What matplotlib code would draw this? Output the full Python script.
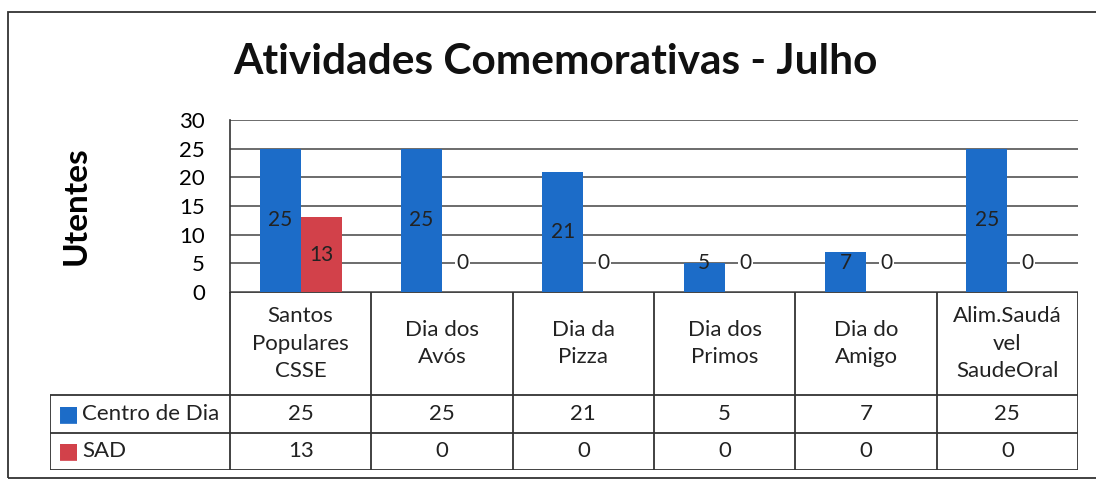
import matplotlib
matplotlib.use("Agg")
import matplotlib.pyplot as plt
import numpy as np
from matplotlib.patches import Rectangle

# data
categories = ["Santos\nPopulares\nCSSE", "Dia dos\nAvós", "Dia da\nPizza",
              "Dia dos\nPrimos", "Dia do\nAmigo", "Alim.Saudá\nvel\nSaudeOral"]
series_names = ["Centro de Dia", "SAD"]
centro_dia = [25, 25, 21, 5, 7, 25]
sad = [13, 0, 0, 0, 0, 0]
yticks = [0, 5, 10, 15, 20, 25, 30]

blue = "#1c6cc8"
red = "#d2414a"
edge = "#333333"
txt = "#222222"

plt.rcParams['font.family'] = ['Lato', 'DejaVu Sans']

W, H = 1096, 482
fig = plt.figure(figsize=(W / 100, H / 100), dpi=100)

def fx(px):
    return px / W

def fy(py):
    return 1 - py / H

# plot area in pixel coords of the reference
left, right, top, bottom = 230, 1078, 120, 292
ax = fig.add_axes([fx(left), fy(bottom), fx(right - left), fy(top) - fy(bottom)])

n = len(categories)
x = np.arange(n)
bw = 0.29
b1 = ax.bar(x + 0.355, centro_dia, bw, color=blue, zorder=3)
b2 = ax.bar(x + 0.645, sad, bw, color=red, zorder=3)

# data labels (roughly centred, nudged up for small bars like excel does)
for bars, vals in ((b1, centro_dia), (b2, sad)):
    for r, v in zip(bars, vals):
        ypos = max(v / 2, 5)
        kw = {}
        if v == 0:
            kw = dict(bbox=dict(facecolor="white", edgecolor="none", pad=1))
        ax.text(r.get_x() + r.get_width() / 2, ypos, str(v), ha="center", va="center",
                fontsize=15, color=txt, zorder=4, **kw)

ax.set_xlim(0, n)
ax.set_ylim(0, 30)
ax.set_yticks(yticks)
ax.set_yticklabels([str(t) for t in yticks], fontsize=16)
ax.tick_params(axis="y", length=0, pad=18)
ax.set_xticks([])
ax.grid(axis="y", color="#444444", linewidth=1.1, zorder=0)
for s in ("right", "bottom", "top"):
    ax.spines[s].set_visible(False)
ax.spines["left"].set_color(edge)
ax.spines["left"].set_linewidth(1.2)

ax.set_ylabel("Utentes", fontsize=24, fontweight="bold", labelpad=64)

# ---- data table below the plot, drawn on its own axes ----
# x runs in category units like the bar axes, y in table rows (header is taller)
lab_left = 50
colw = (right - left) / n
lab_w = (left - lab_left) / colw
tab_bottom = 470
hdr_h = 103 / 37.5
rows_y = [hdr_h, hdr_h + 1, hdr_h + 2]
tax = fig.add_axes([fx(lab_left), fy(tab_bottom), fx(right - lab_left), fy(bottom) - fy(tab_bottom)])
tax.set_xlim(-lab_w, n)
tax.set_ylim(rows_y[-1], 0)
tax.axis("off")

lw = 1.3
tax.hlines(0, 0, n, color=edge, lw=lw)
tax.hlines(rows_y, -lab_w, n, color=edge, lw=lw)
tax.vlines(np.arange(n + 1), 0, rows_y[-1], color=edge, lw=lw)
tax.vlines(-lab_w, rows_y[0], rows_y[-1], color=edge, lw=lw)

for i, cat in enumerate(categories):
    tax.text(i + 0.5, hdr_h / 2, cat, ha="center", va="center", fontsize=16,
             color=txt, linespacing=1.45)

for k, (name, vals, col) in enumerate(((series_names[0], centro_dia, blue),
                                       (series_names[1], sad, red))):
    yc = rows_y[k] + 0.5
    for i, v in enumerate(vals):
        tax.text(i + 0.5, yc, str(v), ha="center", va="center", fontsize=16, color=txt)
    tax.text(-lab_w + 0.225, yc, name, ha="left", va="center", fontsize=16, color=txt)
    tax.text(-lab_w + 0.06, yc, "\u25a0", ha="left", va="center", fontsize=16,
             color=col, family="DejaVu Sans")

fig.text(fx(555), fy(62), "Atividades Comemorativas - Julho", ha="center", va="center",
         fontsize=30.5, fontweight="bold", color="#111111")

# outer chart frame
fig.patches.append(Rectangle((fx(8), fy(478)), fx(1100) - fx(8), fy(12) - fy(478),
                             transform=fig.transFigure, fill=False, edgecolor=edge,
                             linewidth=1.3))

fig.savefig("out.png", dpi=100)
